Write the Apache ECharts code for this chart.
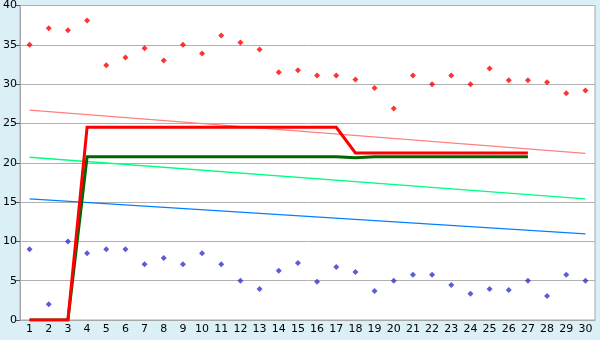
<!DOCTYPE html>
<html>
<head>
<meta charset="utf-8">
<script src="https://cdn.jsdelivr.net/npm/echarts@6/dist/echarts.min.js"></script>
<style>
html,body{margin:0;padding:0;background:#daeff6;}
#c{width:600px;height:340px;}
</style>
</head>
<body>
<div id="c"></div>
<script>
var categories = ['1','2','3','4','5','6','7','8','9','10','11','12','13','14','15','16','17','18','19','20','21','22','23','24','25','26','27','28','29','30'];
var redPoints = [35,37.1,36.85,38.1,32.4,33.4,34.55,33,35,33.9,36.2,35.3,34.4,31.5,31.75,31.1,31.1,30.6,29.5,26.9,31.1,30,31.1,30,32,30.5,30.5,30.25,28.85,29.2];
var bluePoints = [9,2,10,8.5,9,9,7.1,7.9,7.1,8.5,7.1,5,3.95,6.25,7.25,4.85,6.75,6.1,3.7,5,5.75,5.75,4.45,3.35,3.95,3.8,5,3.05,5.75,5];
var redStep = [0,0,0,24.5,24.5,24.5,24.5,24.5,24.5,24.5,24.5,24.5,24.5,24.5,24.5,24.5,24.5,21.25,21.25,21.25,21.25,21.25,21.25,21.25,21.25,21.25,21.25];
var greenStep = [0,0,0,20.75,20.75,20.75,20.75,20.75,20.75,20.75,20.75,20.75,20.75,20.75,20.75,20.75,20.75,20.65,20.75,20.75,20.75,20.75,20.75,20.75,20.75,20.75,20.75];
var redTrend = [26.7, 21.2];
var greenTrend = [20.7, 15.4];
var blueTrend = [15.4, 10.95];
var yTicks = [0,5,10,15,20,25,30,35,40];

function ends(arr){ return [[0, arr[0]], [categories.length-1, arr[1]]]; }

var chart = echarts.init(document.getElementById('c'), null, {renderer:'canvas'});
var font = {fontFamily:'DejaVu Sans', fontSize:11, color:'#000'};
chart.setOption({
  animation:false,
  backgroundColor:'#daeff6',
  grid:{left:20,right:5,top:5,bottom:20,show:true,backgroundColor:'#ffffff',borderColor:'#a8a8a8',borderWidth:1},
  xAxis:{type:'category',data:categories,boundaryGap:true,
    axisLine:{lineStyle:{color:'#a8a8a8'}},
    axisTick:{alignWithLabel:true,length:4,lineStyle:{color:'#000'}},
    axisLabel:Object.assign({margin:4,interval:0},font),
    splitLine:{show:false}},
  yAxis:{type:'value',min:yTicks[0],max:yTicks[yTicks.length-1],interval:5,
    axisLine:{show:true,lineStyle:{color:'#a8a8a8'}},
    axisTick:{show:true,length:4,lineStyle:{color:'#555'}},
    axisLabel:Object.assign({margin:3},font),
    splitLine:{lineStyle:{color:'#b0b0b0',width:1}}},
  series:[
    {type:'line',data:ends(redTrend),symbol:'none',lineStyle:{color:'#ff8080',width:1.3},z:2},
    {type:'line',data:ends(greenTrend),symbol:'none',lineStyle:{color:'#00ff80',width:1.3},z:2},
    {type:'line',data:ends(blueTrend),symbol:'none',lineStyle:{color:'#0080ff',width:1.3},z:2},
    {type:'line',data:greenStep,symbol:'none',lineStyle:{color:'#006400',width:3,join:'miter'},z:3},
    {type:'line',data:redStep,symbol:'none',lineStyle:{color:'#ff0000',width:3,join:'miter'},z:4},
    {type:'scatter',data:redPoints,symbol:'diamond',symbolSize:6,itemStyle:{color:'#ff0000'},z:5},
    {type:'scatter',data:bluePoints,symbol:'diamond',symbolSize:6,itemStyle:{color:'#3333cc'},z:5}
  ]
});
</script>
</body>
</html>
